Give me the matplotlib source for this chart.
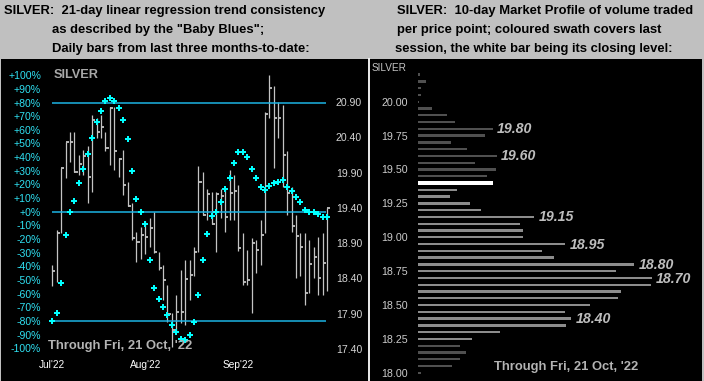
import matplotlib
matplotlib.use("Agg")
import matplotlib.pyplot as plt
from matplotlib.patches import Rectangle
from matplotlib.lines import Line2D

# ---------------- data ----------------
months = ["Jul'22", "Aug'22", "Sep'22"]
month_pos = [0, 21, 42]

bar_high = [18.59, 19.09, 19.97, 20.33, 20.48, 20.48, 20.15, 20.22, 20.27, 20.72,
            20.67, 20.72, 20.48, 20.83, 20.83, 20.11, 20.22, 19.77, 19.47, 19.06,
            19.13, 19.22, 19.26, 19.34, 18.78, 18.59, 18.31, 17.91, 18.17, 18.52,
            18.66, 18.66, 18.85, 19.99, 19.91, 19.67, 19.63, 19.63, 19.67, 19.67,
            19.94, 19.87, 19.72, 19.05, 18.80, 18.97, 18.95, 19.23, 20.76, 21.28,
            21.12, 20.90, 20.86, 20.20, 19.70, 19.30, 19.05, 19.05, 18.95, 18.85,
            18.99, 19.05, 19.40]
bar_low = [18.29, 18.35, 19.05, 19.82, 20.05, 19.91, 19.87, 19.87, 19.47, 19.63,
           20.39, 20.39, 20.20, 20.01, 19.94, 19.84, 19.58, 19.42, 18.95, 18.63,
           18.67, 18.74, 18.85, 18.76, 18.52, 18.10, 17.79, 17.43, 17.64, 17.77,
           17.74, 18.10, 18.43, 18.78, 19.30, 19.23, 19.17, 18.78, 19.26, 19.06,
           19.23, 19.23, 18.79, 18.31, 18.31, 17.91, 18.48, 18.59, 19.05, 20.67,
           19.96, 20.39, 19.70, 19.30, 19.06, 18.41, 18.43, 18.03, 18.20, 18.41,
           18.17, 18.17, 18.22]
bar_close = [18.51, 19.04, 19.97, 20.33, 20.33, 19.91, 20.02, 20.13, 19.84, 20.65,
             20.48, 20.55, 20.25, 20.82, 20.21, 20.09, 19.73, 19.43, 18.98, 18.91,
             19.02, 18.99, 19.12, 18.78, 18.55, 18.38, 17.89, 17.67, 17.92, 17.92,
             18.39, 18.45, 18.78, 19.76, 19.30, 19.59, 19.17, 19.59, 19.57, 19.27,
             19.61, 19.64, 18.83, 18.35, 18.38, 18.90, 18.80, 19.02, 20.73, 21.10,
             20.67, 20.68, 20.15, 19.61, 19.14, 19.00, 18.85, 18.19, 18.61, 18.70,
             18.40, 18.62, 19.40]
baby_blues = [-80, -74, -52, -17, 0, 8, 21, 31, 42, 54,
              66, 74, 81, 83, 81, 76, 67, 53, 30, 9,
              0, -9, -35, -56, -64, -70, -76, -83, -88, -93,
              -94, -90, -81, -61, -35, -16, -3, 0, 7, 17,
              25, 36, 44, 44, 40, 31, 25, 18, 16, 19,
              21, 22, 23, 18, 15, 11, 7, 1.5, 0, 0,
              -2, -3.5, -3.5]
pct_ticks = list(range(100, -101, -10))
pct_labels = [("+%d%%" % v) if v >= 0 else ("%d%%" % v) for v in pct_ticks]
pct_lines = [80, 0, -80]
price_ticks = [20.90, 20.40, 19.90, 19.40, 18.90, 18.40, 17.90, 17.40]

profile_levels = [round(20.20 - 0.05 * k, 2) for k in range(45)]
profile_volume = [2, 7.7, 2.7, 2.7, 1.3, 13.7, 28.7, 37, 74.7, 67,
                  33, 48.7, 78.7, 57, 77.7, 69, 74.7, 38.7, 32, 52,
                  63, 116, 102, 104.7, 104.7, 147, 123.7, 136, 216, 198,
                  233.7, 233, 203, 200, 172, 147, 153, 148, 82, 53.7,
                  42, 47.7, 42, 33.7, 2.7]
close_level = 19.40
session_low, session_high = 18.25, 19.35
labelled_levels = [19.80, 19.60, 19.15, 18.95, 18.80, 18.70, 18.40]
profile_ticks = [20.00, 19.75, 19.50, 19.25, 19.00, 18.75, 18.50, 18.25, 18.00]

# ---------------- figure ----------------
W, H = 704, 381
fig = plt.figure(figsize=(W / 100, H / 100), dpi=100)
fig.patch.set_facecolor("#c0c0c0")
FONT = "Liberation Sans"


def fx(px):
    return px / W


def fy(py):
    return 1 - py / H


fig.add_artist(Rectangle((fx(1), fy(381)), fx(702) - fx(1), fy(59) - fy(381),
                         transform=fig.transFigure, facecolor="black",
                         edgecolor="none", zorder=0))
fig.add_artist(Line2D([fx(369), fx(369)], [fy(59), fy(381)],
                      transform=fig.transFigure, color="white", lw=1.3))

# titles
tkw = dict(fontsize=9.4, fontweight="bold", family=FONT, color="black", va="center")
fig.text(fx(4), fy(11), "SILVER:  21-day linear regression trend consistency", **tkw)
fig.text(fx(52), fy(30), 'as described by the "Baby Blues";', **tkw)
fig.text(fx(52), fy(49), "Daily bars from last three months-to-date:", **tkw)
fig.text(fx(397), fy(11), "SILVER:  10-day Market Profile of volume traded", **tkw)
fig.text(fx(397), fy(30), "per price point; coloured swath covers last", **tkw)
fig.text(fx(395), fy(49), "session, the white bar being its closing level:", **tkw)

# ---------------- left panel ----------------
L0, R0 = 48, 333
ax = fig.add_axes([fx(L0), 0, fx(R0) - fx(L0), fy(59)])
ax.set_facecolor("none")
ax.set_xlim(-0.97, 63.36)
ax.set_ylim(-124.0, 111.9)
for s in ax.spines.values():
    s.set_visible(False)
ax.set_xticks([])
ax.set_yticks(pct_ticks)
ax.set_yticklabels(pct_labels, family=FONT, fontsize=7.6, color="#2fe0f2")
ax.tick_params(axis="y", length=0, pad=5)

axp = ax.twinx()
axp.set_facecolor("none")
axp.set_ylim(16.948, 21.509)
for s in axp.spines.values():
    s.set_visible(False)
axp.set_yticks(price_ticks)
axp.set_yticklabels(["%.2f" % v for v in price_ticks], family=FONT,
                    fontsize=7.6, color="#d4d4d4")
axp.tick_params(axis="y", length=0, pad=2)

n = len(bar_close)
xs = list(range(n))
ax.hlines(pct_lines, -0.14, 61.7, color="#1cb4e4", lw=1.1, zorder=2)
axp.vlines(xs, bar_low, bar_high, color="#c4c4c4", lw=0.9, zorder=3)
axp.hlines(bar_close, [x for x in xs], [x + 0.7 for x in xs],
           color="#c4c4c4", lw=1.3, zorder=3)
ax.plot(xs, baby_blues, linestyle="none", marker="P", markersize=4.0,
        color="#00ffff", markeredgewidth=0, zorder=4)
ax.set_zorder(axp.get_zorder() + 1)

ax.text(0.4, 100.5, "SILVER", family=FONT, fontsize=9.2, fontweight="bold",
        color="#a8a8a8", va="center", ha="left")
ax.text(-0.97, -98.0, "Through Fri, 21 Oct, '22", family=FONT, fontsize=9.4,
        fontweight="bold", color="#b4b4b4", va="center", ha="left", zorder=5)
for p, lab in zip(month_pos, months):
    ax.text(p, -112.5, lab, family=FONT, fontsize=7.3, color="white",
            ha="center", va="center")

# ---------------- right panel ----------------
axr = fig.add_axes([fx(418), 0, fx(702) - fx(418), fy(59)])
axr.set_facecolor("none")
axr.set_xlim(0, 284)
axr.set_ylim(17.940, 20.315)
for s in axr.spines.values():
    s.set_visible(False)
axr.set_xticks([])
axr.set_yticks(profile_ticks)
axr.set_yticklabels(["%.2f" % v for v in profile_ticks], family=FONT,
                    fontsize=7.7, color="#cccccc")
axr.tick_params(axis="y", length=0, pad=7)

colors, heights = [], []
for lv in profile_levels:
    if abs(lv - close_level) < 1e-6:
        colors.append("white"); heights.append(0.026)
    elif session_low - 1e-6 <= lv <= session_high + 1e-6:
        colors.append("#8c8c8c"); heights.append(0.017)
    else:
        colors.append("#505050"); heights.append(0.017)
axr.barh(profile_levels, profile_volume, height=heights, color=colors, left=0)
for lv in labelled_levels:
    v = profile_volume[profile_levels.index(lv)]
    axr.text(v + 4.5, lv - 0.004, "%.2f" % lv, family=FONT, fontsize=10.2,
             fontweight="bold", style="italic", color="#bdbdbd",
             ha="left", va="center")

fig.text(fx(372), fy(68), "SILVER", family=FONT, fontsize=7.2, color="#c4c4c4",
         ha="left", va="center")
fig.text(fx(494), fy(367), "Through Fri, 21 Oct, '22", family=FONT, fontsize=9.4,
         fontweight="bold", color="#b4b4b4", ha="left", va="center")

fig.savefig("out.png", dpi=100, facecolor=fig.get_facecolor())
